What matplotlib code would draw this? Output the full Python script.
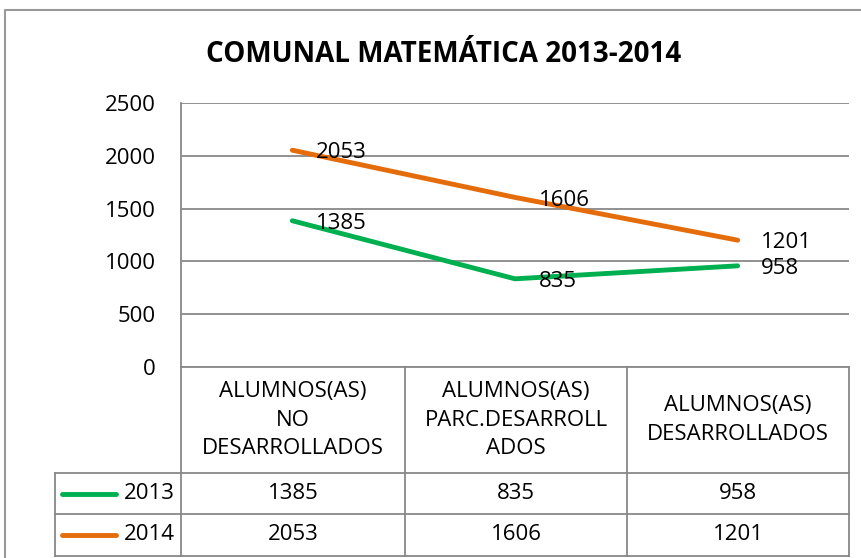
import numpy as np
import matplotlib.pyplot as plt

# Data
categories = ['ALUMNOS(AS)\nNO\nDESARROLLADOS',
              'ALUMNOS(AS)\nPARC.DESARROLL\nADOS',
              'ALUMNOS(AS)\nDESARROLLADOS']
years = ['2013', '2014']
values_2013 = [1385, 835, 958]
values_2014 = [2053, 1606, 1201]
series = [values_2013, values_2014]
colors = ['#00B050', '#E46C0A']
title = 'COMUNAL MATEMÁTICA 2013-2014'

plt.rcParams['font.family'] = ['Open Sans', 'DejaVu Sans']

W, H = 862, 558
fig = plt.figure(figsize=(W / 100, H / 100), dpi=100)

# plot area in pixel coords
L, R, T, B = 181, 849, 103, 367
ax = fig.add_axes([L / W, 1 - B / H, (R - L) / W, (B - T) / H])
x = np.arange(len(categories))
for vals, c in zip(series, colors):
    ax.plot(x, vals, color=c, lw=3.5, solid_capstyle='round', zorder=3)
    for xi, v in zip(x, vals):
        ax.annotate(str(v), (xi, v), xytext=(17, -2), textcoords='offset points',
                    ha='left', va='center', fontsize=16, color='black', zorder=4)
ax.set_xlim(-0.5, 2.5)
ax.set_ylim(0, 2500)
ax.set_yticks(np.arange(0, 2501, 500))
ax.set_xticks([])
ax.yaxis.grid(True, color='#888888', lw=1.3)
ax.set_axisbelow(True)
for s in ['top', 'right', 'bottom']:
    ax.spines[s].set_visible(False)
ax.spines['left'].set_color('#888888')
ax.spines['left'].set_linewidth(1.3)
ax.tick_params(axis='y', length=0, pad=18, labelsize=16)
ax.patch.set_alpha(0)

# overlay for frame and data table (pixel coords)
ov = fig.add_axes([0, 0, 1, 1], zorder=-1)
ov.set_xlim(0, W)
ov.set_ylim(H, 0)
ov.axis('off')
gc = '#888888'
# outer chart border
ov.plot([5, 5, W], [H, 10, 10], color='#999999', lw=1.5)

ov.text(444, 54, title, ha='center', va='center', fontsize=20, fontweight='bold')

cols = [L, 405, 627, R]
r0, r1, r2, r3 = B, 473, 514, 556
leg_l = 55
ov.plot([L, R], [r0, r0], color=gc, lw=1.3)
for y in [r1, r2, r3]:
    ov.plot([leg_l, R], [y, y], color=gc, lw=1.3)
ov.plot([leg_l, leg_l], [r1, r3], color=gc, lw=1.3)
for cx in cols:
    ov.plot([cx, cx], [r0, r3], color=gc, lw=1.3)

for i, cat in enumerate(categories):
    cx = (cols[i] + cols[i + 1]) / 2
    ov.text(cx, (r0 + r1) / 2, cat, ha='center', va='center', fontsize=16,
            linespacing=1.5)

rows = [(r1, r2), (r2, r3)]
for (ya, yb), yr, vals, c in zip(rows, years, series, colors):
    yc = (ya + yb) / 2
    ov.plot([62, 116], [yc, yc], color=c, lw=3.5, solid_capstyle='round')
    ov.text(175, yc, yr, ha='right', va='center', fontsize=16)
    for i, v in enumerate(vals):
        cx = (cols[i] + cols[i + 1]) / 2
        ov.text(cx, yc, str(v), ha='center', va='center', fontsize=16)

fig.savefig('out.png', dpi=100)
